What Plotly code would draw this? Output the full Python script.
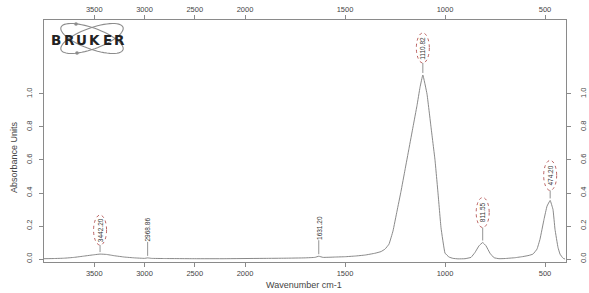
import numpy as np
import plotly.graph_objects as go

# ---- data ----
wavenumber = [4000, 3900, 3800, 3700, 3600, 3500, 3442.2, 3380, 3300, 3200, 3100, 3000,
              2968.86, 2930, 2800, 2500, 2200, 2000,
              1900, 1800, 1700, 1650, 1631.2, 1610, 1550, 1500, 1450, 1400, 1350, 1320,
              1300, 1280, 1260, 1240, 1220, 1200, 1180, 1160, 1140, 1125, 1110.82,
              1090, 1070, 1050, 1035, 1020, 1000, 980, 960, 935, 900, 870, 850, 830,
              811.55, 795, 775, 755, 730, 700, 650, 610, 580, 560, 540, 525, 505, 490,
              474.2, 460, 450, 435, 425, 410, 400]
absorbance = [0.002, 0.003, 0.005, 0.010, 0.018, 0.026, 0.030, 0.028, 0.020, 0.012, 0.007, 0.004,
              0.007, 0.004, 0.003, 0.002, 0.002, 0.003,
              0.004, 0.005, 0.007, 0.010, 0.017, 0.010, 0.012, 0.014, 0.018, 0.024, 0.035, 0.045,
              0.06, 0.09, 0.17, 0.29, 0.41, 0.54, 0.67, 0.80, 0.93, 1.04, 1.115,
              1.00, 0.80, 0.60, 0.40, 0.19, 0.036, 0.012, 0.004, 0.001, 0.002, 0.01, 0.04, 0.08,
              0.10, 0.08, 0.035, 0.008, 0.002, 0.003, 0.008, 0.015, 0.022, 0.03, 0.06, 0.12, 0.24, 0.32,
              0.355, 0.30, 0.18, 0.07, 0.03, 0.005, 0.0]

peak_wn = [3442.20, 2968.86, 1631.20, 1110.82, 811.55, 474.20]
peak_text = ["3442.20", "2968.86", "1631.20", "1110.82", "811.55", "474.20"]
peak_circled = [True, False, False, True, True, True]

x_ticks_left = [3500, 3000, 2500, 2000]
x_ticks_right = [1500, 1000, 500]
y_ticks = [0.0, 0.2, 0.4, 0.6, 0.8, 1.0]
y_ticktext = ["0.0", "0.2", "0.4", "0.6", "0.8", "1.0"]

# ---- styling / layout ----
W, H = 589, 293
L, R, T, B = 44, 566, 20, 262
split_px = 245
d = (split_px - L) / (R - L)
YR = [-0.018, 1.448]
XR_LEFT = [4000, 2000]
XR_RIGHT = [2000, 395]

LINE = "#8a8a8a"
TXT = "#444444"
FONT = "Liberation Sans, Arial, sans-serif"

wn = np.array(wavenumber)
ab = np.array(absorbance)
left = wn >= 2000
right = wn <= 2000

fig = go.Figure()
spec_style = dict(mode="lines", line=dict(color="#7c7c7c", width=0.9, shape="spline", smoothing=0.25),
                  hoverinfo="skip", showlegend=False)
fig.add_trace(go.Scatter(x=wn[left], y=ab[left], xaxis="x", yaxis="y", **spec_style))
fig.add_trace(go.Scatter(x=wn[right], y=ab[right], xaxis="x2", yaxis="y", **spec_style))
# invisible companions to anchor the mirrored axes
ghost = dict(mode="lines", line=dict(width=0), opacity=0, hoverinfo="skip", showlegend=False)
fig.add_trace(go.Scatter(x=wn[left], y=ab[left], xaxis="x3", yaxis="y", **ghost))
fig.add_trace(go.Scatter(x=wn[right], y=ab[right], xaxis="x4", yaxis="y", **ghost))
fig.add_trace(go.Scatter(x=wn[right], y=ab[right], xaxis="x2", yaxis="y2", **ghost))

tickfont = dict(family=FONT, size=7.5, color=TXT)
xcommon = dict(showgrid=False, zeroline=False, showline=True, linecolor=LINE, linewidth=1,
               ticks="outside", ticklen=4, tickcolor=LINE, tickfont=tickfont, automargin=False)

fig.update_layout(
    width=W, height=H,
    margin=dict(l=L, r=W - R, t=T, b=H - B, autoexpand=False),
    paper_bgcolor="white", plot_bgcolor="white",
    xaxis=dict(domain=[0, d], range=XR_LEFT, anchor="y", tickvals=x_ticks_left,
               ticktext=[str(v) for v in x_ticks_left], **xcommon),
    xaxis2=dict(domain=[d, 1], range=XR_RIGHT, anchor="y", tickvals=x_ticks_right,
                ticktext=[str(v) for v in x_ticks_right], **xcommon),
    xaxis3=dict(overlaying="x", side="top", range=XR_LEFT, anchor="y", tickvals=x_ticks_left,
                ticktext=[str(v) for v in x_ticks_left], **xcommon),
    xaxis4=dict(overlaying="x2", side="top", range=XR_RIGHT, anchor="y", tickvals=x_ticks_right,
                ticktext=[str(v) for v in x_ticks_right], **xcommon),
    yaxis=dict(range=YR, anchor="x", tickvals=y_ticks, ticktext=y_ticktext, tickangle=-90,
               ticklabelstandoff=4, **xcommon),
    yaxis2=dict(range=YR, anchor="x2", overlaying="y", side="right", tickvals=y_ticks,
                ticktext=y_ticktext, tickangle=-90, ticklabelstandoff=6, **xcommon),
)

# axis titles
fig.add_annotation(text="Wavenumber cm-1", xref="paper", yref="paper",
                   x=(304 - L) / (R - L), y=(B - 285) / (B - T), showarrow=False,
                   font=dict(family=FONT, size=9, color=TXT), xanchor="center", yanchor="middle")
fig.add_annotation(text="Absorbance Units", xref="paper", yref="paper",
                   x=(14 - L) / (R - L), y=(B - 157) / (B - T), showarrow=False, textangle=-90,
                   font=dict(family=FONT, size=9, color=TXT), xanchor="center", yanchor="middle")

# peak labels
offsets = {"3442.20": 9, "2968.86": 16, "1631.20": 16, "1110.82": 12, "811.55": 15, "474.20": 10}
for w, t, circ in zip(peak_wn, peak_text, peak_circled):
    xr = "x" if w > 2000 else "x2"
    yv = float(np.interp(w, wn[::-1], ab[::-1]))
    off = offsets[t]
    fig.add_shape(type="line", xref=xr, yref="y", x0=w, x1=w, ysizemode="pixel", yanchor=yv,
                  y0=2, y1=off, line=dict(color="#777777", width=0.8))
    if circ:
        fig.add_shape(type="circle", xref=xr, yref="y", xsizemode="pixel", xanchor=w, x0=-6.5, x1=6.5,
                      ysizemode="pixel", yanchor=yv, y0=off, y1=off + 30,
                      line=dict(color="#a83a3a", width=0.8, dash="dot"))
        shift = off + 15
    else:
        shift = off + 12
    fig.add_annotation(text=t, x=w, y=yv, xref=xr, yref="y", showarrow=False, textangle=-90,
                       xanchor="center", yanchor="middle", yshift=shift,
                       font=dict(family=FONT, size=6.5, color="#333333"))

# Bruker logo (decoration)
def px2paper(px, py):
    return (px - L) / (R - L), (B - py) / (B - T)

def ellipse_path(cx, cy, a, b, ang):
    th = np.linspace(0, 2 * np.pi, 60)
    c, s = np.cos(np.radians(ang)), np.sin(np.radians(ang))
    pts = []
    for t in th:
        ex, ey = a * np.cos(t), b * np.sin(t)
        X, Y = cx + ex * c - ey * s, cy + ex * s + ey * c
        pts.append(px2paper(X, Y))
    return "M " + " L ".join(f"{p[0]:.5f},{p[1]:.5f}" for p in pts) + " Z"

for ang in (20, -20):
    fig.add_shape(type="path", xref="paper", yref="paper", path=ellipse_path(92, 38.5, 33, 10.5, ang),
                  line=dict(color="#8c8c8c", width=1.1))
for (dx, dy) in [(76, 24), (77, 53)]:
    x0, y0 = px2paper(dx - 1.8, dy - 1.8)
    x1, y1 = px2paper(dx + 1.8, dy + 1.8)
    fig.add_shape(type="circle", xref="paper", yref="paper", x0=x0, x1=x1, y0=y0, y1=y1,
                  fillcolor="#8c8c8c", line=dict(width=0))
for i, ch in enumerate("BRUKER"):
    xp, yp = px2paper(56.3 + i * 12.7, 39.5)
    fig.add_annotation(text=f"<b>{ch}</b>", xref="paper", yref="paper", x=xp, y=yp, showarrow=False,
                       xanchor="center", yanchor="middle",
                       font=dict(family="DejaVu Sans, sans-serif", size=13.5, color="#222222"))

fig.write_html("out.html")
